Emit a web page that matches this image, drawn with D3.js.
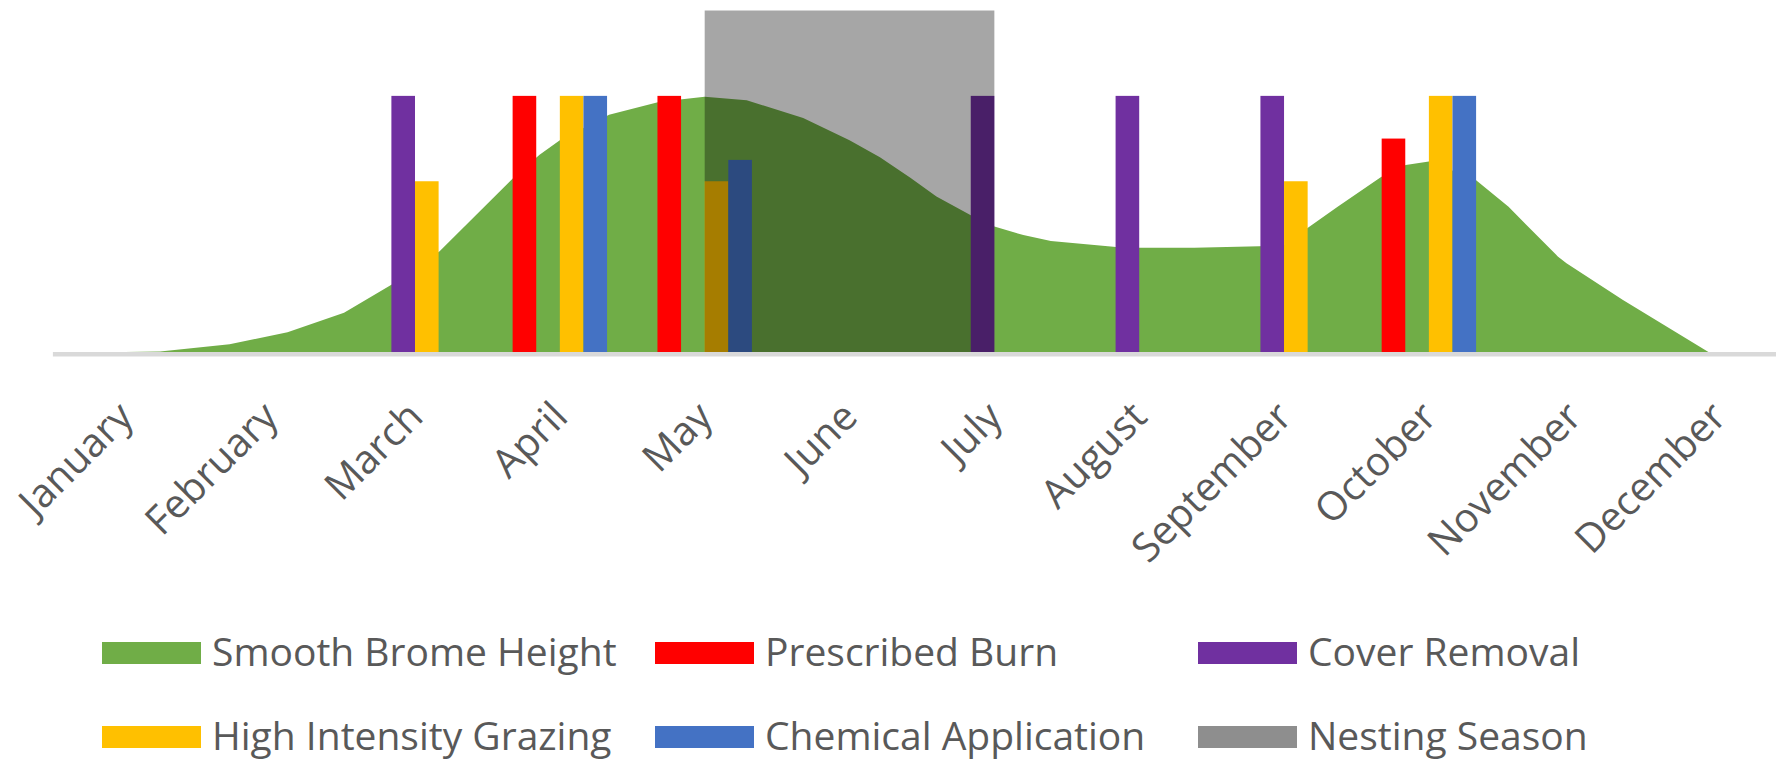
<!DOCTYPE html>
<html>
<head>
<meta charset="utf-8">
<script src="https://cdn.jsdelivr.net/npm/d3@7"></script>
<style>
  html, body { margin: 0; padding: 0; background: #fff; }
  svg { display: block; }
  text { font-family: "Open Sans", "Noto Sans", sans-serif; fill: #595959; }
</style>
</head>
<body>
<svg id="chart" width="1776" height="764"></svg>
<script>
// ---------------- DATA ----------------
const months = ["January", "February", "March", "April", "May", "June",
  "July", "August", "September", "October", "November", "December"];

// Management actions (relative intensity, 3 = full)
const prescribedBurn = [0, 0, 0, 3, 3, 0, 0, 0, 0, 2.5, 0, 0];
const coverRemoval   = [0, 0, 3, 0, 0, 0, 3, 3, 3, 0, 0, 0];
const grazing        = [0, 0, 2, 3, 2, 0, 0, 0, 2, 3, 0, 0];
const chemical       = [0, 0, 0, 3, 2.25, 0, 0, 0, 0, 3, 0, 0];

// Nesting season span (from the middle of May to the middle of July)
const nestingStart = "May";
const nestingEnd = "July";
const nestingValue = 4;

// Smooth brome height: position in months (0 = January) and height
const bromeMonth = [0, 0.24, 0.72, 1.12, 1.51, 1.84, 2.17, 2.68, 2.86, 3.0, 3.34, 3.69, 4.0,
  4.29, 4.68, 5.0, 5.21, 5.42, 5.6, 5.85, 6.0, 6.2, 6.39, 6.84, 7.0, 7.38, 7.83, 8.0,
  8.16, 8.37, 8.67, 8.84, 9.0, 9.32, 9.55, 9.89, 9.95, 10.34, 10.93];
const bromeHeight = [0, 0.005, 0.09, 0.23, 0.46, 0.79, 1.18, 2.04, 2.31, 2.48, 2.78, 2.93, 2.99,
  2.95, 2.74, 2.48, 2.28, 2.04, 1.82, 1.59, 1.47, 1.37, 1.30, 1.23, 1.22, 1.22, 1.24, 1.25,
  1.45, 1.70, 2.05, 2.19, 2.23, 2.02, 1.70, 1.12, 1.04, 0.61, 0];

const seriesNames = ["Prescribed Burn", "Cover Removal", "High Intensity Grazing", "Chemical Application"];
const seriesValues = [prescribedBurn, coverRemoval, grazing, chemical];
const seriesColors = ["#FF0000", "#7030A0", "#FFC000", "#4472C4"];

const legendNames = ["Smooth Brome Height", "Prescribed Burn", "Cover Removal",
  "High Intensity Grazing", "Chemical Application", "Nesting Season"];
const legendColors = ["#70AD47", "#FF0000", "#7030A0", "#FFC000", "#4472C4", "#8E8E8E"];

// ---------------- CHART ----------------
const svg = d3.select("#chart");
svg.append("rect").attr("width", 1776).attr("height", 764).attr("fill", "#fff");

const step = 144.84;
const left = 52.9;
const x = d3.scaleBand().domain(months)
  .range([left, left + step * months.length])
  .paddingInner(0.348).paddingOuter(0.174);
const xs = d3.scaleBand().domain(seriesNames).range([0, x.bandwidth()]);
const y = d3.scaleLinear().domain([0, 4]).range([352, 10.5]);
const center = m => x(m) + x.bandwidth() / 2;
const xm = d3.scaleLinear().domain([0, months.length - 1])
  .range([center(months[0]), center(months[months.length - 1])]);

// axis line
svg.append("line")
  .attr("x1", left).attr("x2", 1776)
  .attr("y1", y(0) + 2.2).attr("y2", y(0) + 2.2)
  .attr("stroke", "#D9D9D9").attr("stroke-width", 4.5);

// area
const bromePts = bromeMonth.map((m, i) => [m, bromeHeight[i]]);
const area = d3.area().x(d => xm(d[0])).y0(y(0)).y1(d => y(d[1])).curve(d3.curveLinear);
svg.append("path").datum(bromePts).attr("d", area).attr("fill", "#70AD47");

// bars
const groups = svg.append("g").selectAll("g").data(months).join("g")
  .attr("transform", d => `translate(${x(d)},0)`);
groups.selectAll("rect")
  .data((d, i) => seriesNames.map((s, k) => ({ s, v: seriesValues[k][i], c: seriesColors[k] })))
  .join("rect")
  .filter(d => d.v > 0)
  .attr("x", d => xs(d.s))
  .attr("width", xs.bandwidth())
  .attr("y", d => y(d.v))
  .attr("height", d => y(0) - y(d.v))
  .attr("fill", d => d.c);

// nesting season overlay
svg.append("rect")
  .attr("x", center(nestingStart))
  .attr("width", center(nestingEnd) - center(nestingStart))
  .attr("y", y(nestingValue))
  .attr("height", y(0) - y(nestingValue))
  .attr("fill", "#000").attr("fill-opacity", 0.35);

// month labels
svg.append("g").selectAll("text").data(months).join("text")
  .attr("text-anchor", "end")
  .attr("transform", d => `translate(${center(d) + 10},419) rotate(-45)`)
  .attr("font-size", 40)
  .text(d => d);

// legend
const colX = [102, 655, 1198];
const rowY = [653, 737];
const leg = svg.append("g").selectAll("g").data(legendNames).join("g")
  .attr("transform", (d, i) => `translate(${colX[i % 3]},${rowY[Math.floor(i / 3)]})`);
leg.append("rect").attr("x", 0).attr("y", -11).attr("width", 99).attr("height", 22)
  .attr("fill", (d, i) => legendColors[i]);
leg.append("text").attr("x", 110).attr("dy", "0.33em").attr("font-size", 39).text(d => d);
</script>
</body>
</html>
